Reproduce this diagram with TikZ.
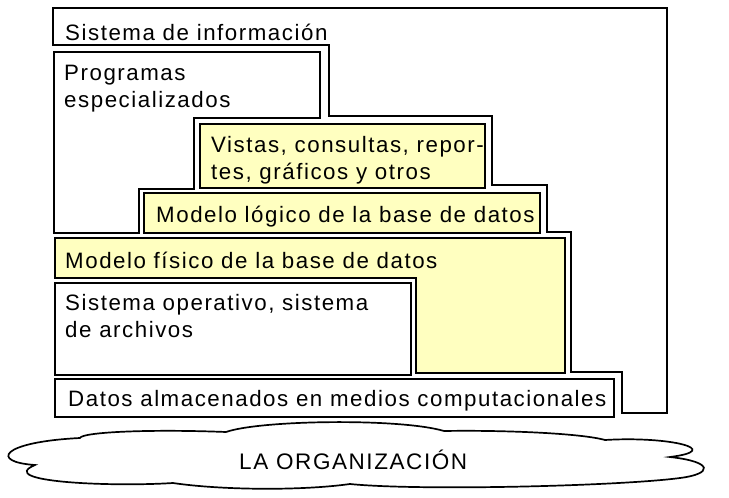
\documentclass[tikz,border=0pt]{standalone}
\usepackage{fontspec}
\setmainfont{Liberation Sans}[LetterSpace=6.9]
\newfontfamily\orgfont{Liberation Sans}[LetterSpace=7]
\definecolor{amarillo}{RGB}{255,255,192}
\tikzset{
  marco/.style={draw, line width=1.7pt},
  capa/.style={draw, line width=2.6pt, fill=amarillo},
  caja/.style={draw, line width=2.6pt, fill=white},
  texto/.style={anchor=base west, inner sep=0pt, align=left,
    font=\fontsize{22.3}{26.5}\selectfont},
}
\begin{document}
\begin{tikzpicture}[x=1pt,y=-1pt]
        \useasboundingbox (0,0) rectangle (729,498);
        % Sistema de informacion
        \draw[marco] (53,8) -- (667,8) -- (667,413) -- (622,413) -- (622,372) -- (571,372)
            -- (571,232) -- (547,232) -- (547,185) -- (492,185) -- (492,116) -- (329,116)
            -- (329,45) -- (53,45) -- cycle;
        % Capas
        \draw[caja] (54,52) -- (320,52) -- (320,118) -- (194,118) -- (194,189) -- (139,189)
            -- (139,233) -- (54,233) -- cycle;
        \draw[capa] (200,124) rectangle (485,188);
        \draw[capa] (144,193) rectangle (540,233);
        \draw[capa] (55,238) -- (565,238) -- (565,373) -- (416,373) -- (416,278) -- (55,278) -- cycle;
        \draw[caja] (55,283) rectangle (411,375);
        \draw[caja] (55,379) rectangle (614,417);
        % Nube
        \draw[line width=1.7pt, fill=white] (80,438) .. controls (82,432) and (150,429) .. (226,432)
            .. controls (260,420) and (400,418) .. (444,431)
            .. controls (500,430) and (580,433) .. (605,440)
            .. controls (670,436) and (725,450) .. (670,457)
            .. controls (715,462) and (712,474) .. (680,478)
            .. controls (620,486) and (420,491) .. (350,484)
            .. controls (300,491) and (220,490) .. (173,483)
            .. controls (110,487) and (-5,482) .. (35,465)
            .. controls (-10,462) and (0,442) .. cycle;
        % Textos
        \node[texto] (sistema) at (65,40) {Sistema de información};
        \node[texto] (programas) at (64,107) {Programas\\especializados};
        \node[texto] (vistas) at (211,179) {Vistas, consultas, repor-\\tes, gráficos y otros};
        \node[texto] (logico) at (156,222) {Modelo lógico de la base de datos};
        \node[texto] (fisico) at (65,268) {Modelo físico de la base de datos};
        \node[texto] (so) at (65,337) {Sistema operativo, sistema\\de archivos};
        \node[texto] (datos) at (68,406) {Datos almacenados en medios computacionales};
        \node[anchor=base west, inner sep=0pt, font=\orgfont\fontsize{22.5}{25}\selectfont] (org) at (239,469) {LA ORGANIZACIÓN};
\end{tikzpicture}
\end{document}
